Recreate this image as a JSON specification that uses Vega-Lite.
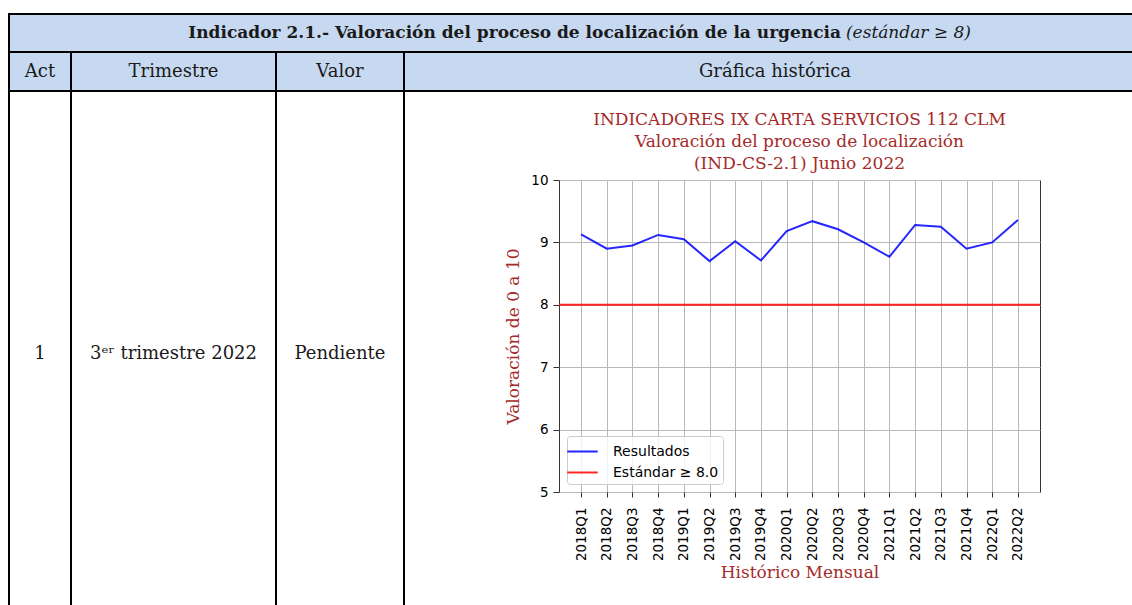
{
  "$schema": "https://vega.github.io/schema/vega-lite/v6.json",
  "width": 481,
  "height": 312,
  "autosize": {"type": "none"},
  "padding": {"left": 559, "top": 180, "right": 92, "bottom": 113},
  "background": "white",
  "config": {
    "view": {"stroke": "#333333", "strokeWidth": 1},
    "font": "DejaVu Sans",
    "axis": {"labelFont": "DejaVu Sans", "labelColor": "#000000", "tickColor": "#333333"}
  },
  "datasets": {
    "resultados": [
      {"trimestre": "2018Q1", "valor": 9.13, "serie": "Resultados"},
      {"trimestre": "2018Q2", "valor": 8.90, "serie": "Resultados"},
      {"trimestre": "2018Q3", "valor": 8.95, "serie": "Resultados"},
      {"trimestre": "2018Q4", "valor": 9.12, "serie": "Resultados"},
      {"trimestre": "2019Q1", "valor": 9.05, "serie": "Resultados"},
      {"trimestre": "2019Q2", "valor": 8.70, "serie": "Resultados"},
      {"trimestre": "2019Q3", "valor": 9.02, "serie": "Resultados"},
      {"trimestre": "2019Q4", "valor": 8.71, "serie": "Resultados"},
      {"trimestre": "2020Q1", "valor": 9.18, "serie": "Resultados"},
      {"trimestre": "2020Q2", "valor": 9.34, "serie": "Resultados"},
      {"trimestre": "2020Q3", "valor": 9.21, "serie": "Resultados"},
      {"trimestre": "2020Q4", "valor": 9.00, "serie": "Resultados"},
      {"trimestre": "2021Q1", "valor": 8.77, "serie": "Resultados"},
      {"trimestre": "2021Q2", "valor": 9.28, "serie": "Resultados"},
      {"trimestre": "2021Q3", "valor": 9.25, "serie": "Resultados"},
      {"trimestre": "2021Q4", "valor": 8.90, "serie": "Resultados"},
      {"trimestre": "2022Q1", "valor": 9.00, "serie": "Resultados"},
      {"trimestre": "2022Q2", "valor": 9.36, "serie": "Resultados"}
    ],
    "estandar": [
      {"valor": 8, "serie": "Estándar ≥ 8.0"}
    ],
    "titulo_grafico": [
      {"titulo": "INDICADORES IX CARTA SERVICIOS 112 CLM\nValoración del proceso de localización\n(IND-CS-2.1) Junio 2022", "valor": 10}
    ],
    "cabecera": [
      {"c0": 0, "c1": 4, "r0": 0, "r1": 2}
    ],
    "bordes": [
      {"c0": 0, "c1": 4, "r0": 0, "r1": 0},
      {"c0": 0, "c1": 4, "r0": 1, "r1": 1},
      {"c0": 0, "c1": 4, "r0": 2, "r1": 2},
      {"c0": 0, "c1": 0, "r0": 0, "r1": 3},
      {"c0": 4, "c1": 4, "r0": 0, "r1": 3},
      {"c0": 1, "c1": 1, "r0": 1, "r1": 3},
      {"c0": 2, "c1": 2, "r0": 1, "r1": 3},
      {"c0": 3, "c1": 3, "r0": 1, "r1": 3}
    ],
    "celdas": [
      {"col": 0, "fila": 1, "texto": "Act"},
      {"col": 1, "fila": 1, "texto": "Trimestre"},
      {"col": 2, "fila": 1, "texto": "Valor"},
      {"col": 3, "fila": 1, "texto": "Gráfica histórica"},
      {"col": 0, "fila": 2, "texto": "1"},
      {"col": 1, "fila": 2, "texto": "3ᵉʳ trimestre 2022"},
      {"col": 2, "fila": 2, "texto": "Pendiente"}
    ],
    "titulo": [
      {"parte": "Indicador 2.1.- Valoración del proceso de localización de la urgencia", "fila": 0}
    ],
    "titulo2": [
      {"parte": "(estándar ≥ 8)", "fila": 0}
    ]
  },
  "layer": [
    {
      "data": {"name": "cabecera"},
      "mark": {"type": "rect", "fill": "#c6d9f1"},
      "encoding": {
        "x": {"field": "c0", "type": "quantitative", "scale": {"domain": [0, 1, 2, 3, 4], "range": [-550, -488, -283, -155, 587], "zero": false, "nice": false}, "axis": null},
        "x2": {"field": "c1"},
        "y": {"field": "r0", "type": "quantitative", "scale": {"domain": [0, 1, 2, 3], "range": [-166, -128, -89, 434], "zero": false, "nice": false}, "axis": null},
        "y2": {"field": "r1"}
      }
    },
    {
      "data": {"name": "bordes"},
      "mark": {"type": "rule", "color": "#000000", "strokeWidth": 2, "strokeCap": "square"},
      "encoding": {
        "x": {"field": "c0", "type": "quantitative", "scale": {"domain": [0, 1, 2, 3, 4], "range": [-550, -488, -283, -155, 587], "zero": false, "nice": false}, "axis": null},
        "x2": {"field": "c1"},
        "y": {"field": "r0", "type": "quantitative", "scale": {"domain": [0, 1, 2, 3], "range": [-166, -128, -89, 434], "zero": false, "nice": false}, "axis": null},
        "y2": {"field": "r1"}
      }
    },
    {
      "data": {"name": "celdas"},
      "mark": {"type": "text", "font": "DejaVu Serif", "fontSize": 18, "color": "#1a1a1a", "align": "center", "baseline": "middle"},
      "encoding": {
        "x": {"field": "col", "type": "quantitative", "scale": {"domain": [0, 1, 2, 3], "range": [-519, -385.5, -219, 216], "zero": false, "nice": false}, "axis": null},
        "y": {"field": "fila", "type": "quantitative", "scale": {"domain": [0, 1, 2], "range": [-147, -108, 174], "zero": false, "nice": false}, "axis": null},
        "text": {"field": "texto"}
      }
    },
    {
      "data": {"name": "titulo"},
      "mark": {"type": "text", "font": "DejaVu Serif", "fontSize": 17, "fontWeight": "bold", "color": "#1a1a1a", "align": "right", "baseline": "middle", "dx": -2},
      "encoding": {
        "x": {"datum": 0.7335, "type": "quantitative", "scale": {"domain": [0, 1], "range": [-550, 587], "zero": false, "nice": false}, "axis": null},
        "y": {"field": "fila", "type": "quantitative", "scale": {"domain": [0, 1, 2], "range": [-147, -108, 174], "zero": false, "nice": false}, "axis": null},
        "text": {"field": "parte"}
      }
    },
    {
      "data": {"name": "titulo2"},
      "mark": {"type": "text", "font": "DejaVu Serif", "fontSize": 17, "fontStyle": "italic", "color": "#1a1a1a", "align": "left", "baseline": "middle", "dx": 3},
      "encoding": {
        "x": {"datum": 0.7335, "type": "quantitative", "scale": {"domain": [0, 1], "range": [-550, 587], "zero": false, "nice": false}, "axis": null},
        "y": {"field": "fila", "type": "quantitative", "scale": {"domain": [0, 1, 2], "range": [-147, -108, 174], "zero": false, "nice": false}, "axis": null},
        "text": {"field": "parte"}
      }
    },
    {
      "layer": [
        {
          "data": {"name": "resultados"},
          "mark": {"type": "line", "strokeWidth": 2, "opacity": 0.85},
          "encoding": {
            "x": {
              "field": "trimestre", "type": "ordinal", "sort": null,
              "scale": {"type": "point", "padding": 0.86},
              "axis": {
                "title": "Histórico Mensual", "titleFont": "DejaVu Serif", "titleFontSize": 17, "titleFontWeight": "normal", "titleColor": "#a52a2a", "titlePadding": 4,
                "labelAngle": 270, "labelFontSize": 13.5, "labelPadding": 10, "tickSize": 5,
                "grid": true, "gridColor": "#b8b8b8", "gridWidth": 1, "domain": false
              }
            },
            "y": {
              "field": "valor", "type": "quantitative",
              "scale": {"domain": [5, 10], "nice": false, "zero": false},
              "axis": {
                "title": "Valoración de 0 a 10", "titleFont": "DejaVu Serif", "titleFontSize": 17, "titleFontWeight": "normal", "titleColor": "#a52a2a", "titlePadding": 8,
                "values": [5, 6, 7, 8, 9, 10], "format": "d", "labelFontSize": 13.5, "labelPadding": 5, "tickSize": 6,
                "grid": true, "gridColor": "#b8b8b8", "gridWidth": 1, "domain": false
              }
            },
            "color": {
              "field": "serie", "type": "nominal",
              "scale": {"domain": ["Resultados", "Estándar ≥ 8.0"], "range": ["#0000ff", "#ff0000"]},
              "legend": {
                "title": null, "orient": "bottom-left", "offset": 8,
                "fillColor": "rgba(255,255,255,0.8)", "strokeColor": "#cccccc", "cornerRadius": 3, "padding": 4,
                "labelFont": "DejaVu Sans", "labelFontSize": 14, "labelColor": "#000000", "labelOffset": 19,
                "symbolType": "M-1.45,0H1.45", "symbolStrokeWidth": 2, "symbolSize": 441, "symbolOpacity": 0.85, "rowPadding": 2
              }
            }
          }
        },
        {
          "data": {"name": "estandar"},
          "mark": {"type": "rule", "strokeWidth": 2, "opacity": 0.85},
          "encoding": {
            "y": {"field": "valor", "type": "quantitative"},
            "color": {"field": "serie", "type": "nominal"}
          }
        },
        {
          "data": {"name": "titulo_grafico"},
          "mark": {"type": "text", "lineBreak": "\n", "font": "DejaVu Serif", "fontSize": 17, "color": "#a52a2a", "align": "center", "baseline": "bottom", "lineHeight": 22, "dy": -51},
          "encoding": {
            "y": {"field": "valor", "type": "quantitative"},
            "text": {"field": "titulo"}
          }
        }
      ]
    }
  ],
  "resolve": {"scale": {"x": "independent", "y": "independent"}}
}
